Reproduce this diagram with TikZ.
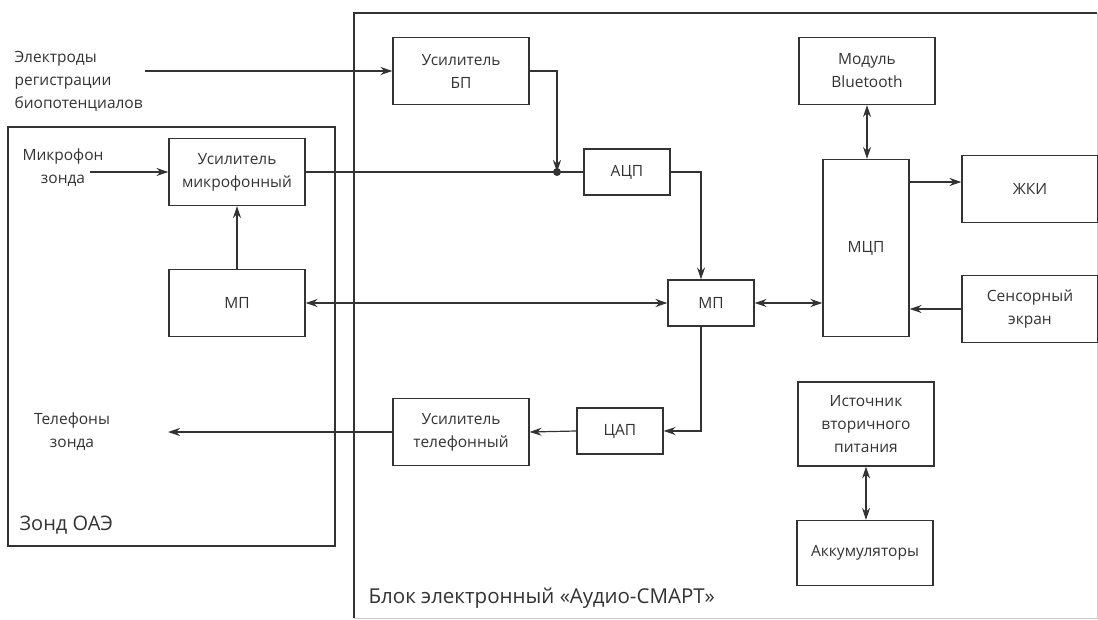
\documentclass[tikz,border=0pt]{standalone}
\usepackage{fontspec}
\setmainfont{Open Sans}
\usetikzlibrary{arrows.meta}

\begin{document}
\begin{tikzpicture}[x=1pt, y=-1pt, >={Stealth[length=12pt,width=8pt]}, line width=1.2pt, color=black!80,
		blk/.style={draw, line width=1.1pt, align=center, inner sep=0pt, font=\fontsize{15.5}{23}\selectfont},
		big/.style={blk, minimum width=136pt, minimum height=67pt},
		small/.style={blk, minimum width=86pt, minimum height=46pt},
		lbl/.style={align=center, inner sep=0pt, font=\fontsize{15.5}{23}\selectfont},
		frame/.style={line width=1.8pt}]
				\useasboundingbox (0,0) rectangle (1098,620);
				
				% 外框
				\draw[frame] (8,127) rectangle (335,546);
				\draw[frame] (354,618) -- (354,13) -- (1097,13);
				\draw[gray!40, line width=0.8pt] (1097,13) -- (1097,618) -- (354,618);
				\node[lbl, anchor=west, font=\fontsize{20}{22}\selectfont] (zond) at (19,525) {Зонд ОАЭ};
				\node[lbl, anchor=west, font=\fontsize{20.5}{22}\selectfont] (blok) at (368,598) {Блок электронный «Аудио-СМАРТ»};
				
				% 文字（无框）
				\node[lbl, anchor=west, align=left] (elec) at (14,81) {Электроды\\регистрации\\биопотенциалов};
				\node[lbl] (mic) at (63,168) {Микрофон\\зонда};
				\node[lbl] (phones) at (72,432) {Телефоны\\зонда};
				\coordinate (elin) at (145,71);
				\coordinate (micin) at (90,172);
				\coordinate (phout) at (168,432);
				\coordinate (jn) at (557,172);
				
				% 方框
				\node[big] (usbp) at (461,71) {Усилитель\\БП};
				\node[big] (usmic) at (237,172) {Усилитель\\микрофонный};
				\node[big] (mpz) at (237,303) {МП};
				\node[small] (adc) at (627,172) {АЦП};
				\node[small] (mp) at (711,303) {МП};
				\node[blk, minimum width=86pt, minimum height=177pt] (mcu) at (866,248) {МЦП};
				\node[big] (bt) at (867,71) {Модуль\\Bluetooth};
				\node[big] (lcd) at (1030,189) {ЖКИ};
				\node[big] (touch) at (1030,309) {Сенсорный\\экран};
				\node[big, minimum height=84pt] (psu) at (866,424) {Источник\\вторичного\\питания};
				\node[big, minimum height=65pt] (bat) at (865,553) {Аккумуляторы};
				\node[big] (ampt) at (461,432) {Усилитель\\телефонный};
				\node[small] (dac) at (620,431) {ЦАП};
				
				% 连线
				\draw[->] (elin) -- (usbp.west);
				\draw[->] (micin) -- (usmic.west);
				\draw[->] (usbp.east) -| (jn);
				\draw (usmic.east) -- (adc.west);
				\fill (jn) circle (4pt);
				\draw[->] (adc.east) -| ([xshift=-10pt]mp.north);
				\draw[<->] (mpz.east) -- (mp.west);
				\draw[->] (mpz.north) -- (usmic.south);
				\draw[<->] (mp.east) -- (mp.east -| mcu.west);
				\draw[<->] (bt.south) -- (bt.south |- mcu.north);
				\draw[->] ([yshift=7pt]mcu.east |- lcd.west) -- ([yshift=7pt]lcd.west);
				\draw[->] (touch.west) -- (touch.west -| mcu.east);
				\draw[->] ([xshift=-10pt]mp.south) |- (dac.east);
				\draw[->] (dac.west) -- (ampt.east);
				\draw[->] (ampt.west) -- (phout);
				\draw[<->] (psu.south) -- (psu.south |- bat.north);
			\end{tikzpicture}
\end{document}
